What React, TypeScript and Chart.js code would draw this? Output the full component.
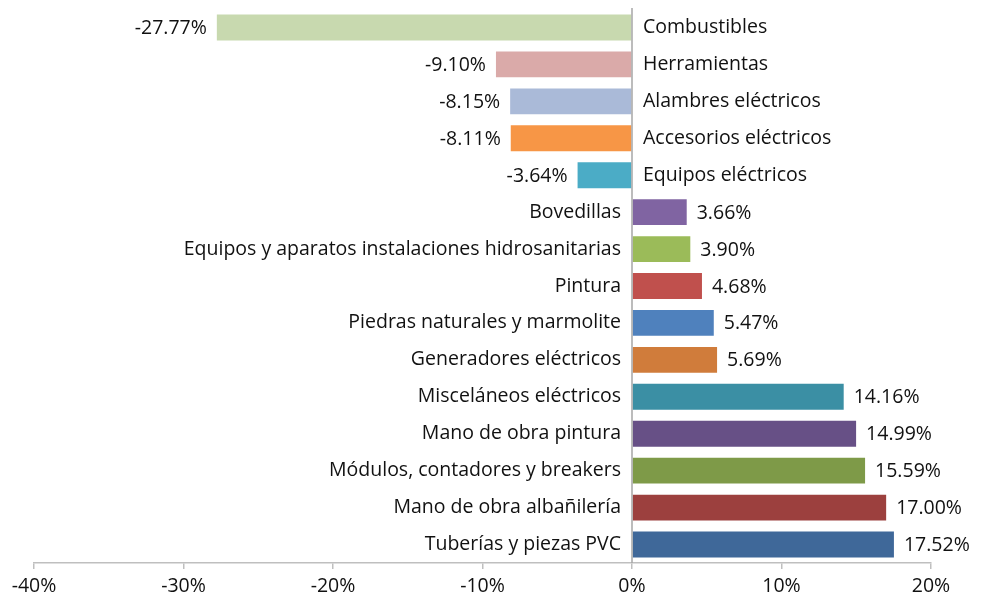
import React, { useEffect, useRef } from "react";
import { Chart, registerables } from "chart.js";

Chart.register(...registerables);

const categories = [
  "Combustibles",
  "Herramientas",
  "Alambres eléctricos",
  "Accesorios eléctricos",
  "Equipos eléctricos",
  "Bovedillas",
  "Equipos y aparatos instalaciones hidrosanitarias",
  "Pintura",
  "Piedras naturales y marmolite",
  "Generadores eléctricos",
  "Misceláneos eléctricos",
  "Mano de obra pintura",
  "Módulos, contadores y breakers",
  "Mano de obra albañilería",
  "Tuberías y piezas PVC",
];

const values = [
  -27.77, -9.1, -8.15, -8.11, -3.64, 3.66, 3.9, 4.68, 5.47, 5.69, 14.16, 14.99,
  15.59, 17.0, 17.52,
];

const barColors = [
  "#C8D9AF",
  "#DAAAA9",
  "#AABAD8",
  "#F79646",
  "#4BACC6",
  "#8064A2",
  "#9BBB59",
  "#C0504D",
  "#4F81BD",
  "#D07C3B",
  "#3B8FA4",
  "#675086",
  "#7E9A48",
  "#9C403E",
  "#3F6899",
];

const xMin = -40;
const xMax = 20;
const xStep = 10;

const FONT = "'Open Sans', 'Liberation Sans', sans-serif";
const FONT_SIZE = 19.5;

const labelPlugin = {
  id: "barLabels",
  afterDatasetsDraw(chart: any) {
    const ctx = chart.ctx;
    const meta = chart.getDatasetMeta(0);
    const xs = chart.scales.x;
    const area = chart.chartArea;
    const zeroX = xs.getPixelForValue(0);
    ctx.save();
    ctx.strokeStyle = "#A6A6A6";
    ctx.lineWidth = 1.5;
    ctx.beginPath();
    ctx.moveTo(zeroX, area.top - 1);
    ctx.lineTo(zeroX, area.bottom);
    ctx.stroke();

    ctx.font = `${FONT_SIZE}px ${FONT}`;
    ctx.fillStyle = "#111111";
    ctx.textBaseline = "middle";
    meta.data.forEach((bar: any, i: number) => {
      const v = values[i];
      const y = bar.y;
      const txt = v.toFixed(2) + "%";
      if (v < 0) {
        ctx.textAlign = "left";
        ctx.fillText(categories[i], zeroX + 11, y);
        ctx.textAlign = "right";
        ctx.fillText(txt, bar.x - 10, y + 1);
      } else {
        ctx.textAlign = "right";
        ctx.fillText(categories[i], zeroX - 11, y);
        ctx.textAlign = "left";
        ctx.fillText(txt, bar.x + 10, y + 1);
      }
    });
    ctx.restore();
  },
};

export default function App() {
  const ref = useRef<HTMLCanvasElement>(null);
  useEffect(() => {
    const canvas = ref.current!;
    const chart = new Chart(canvas, {
      type: "bar",
      data: {
        labels: categories,
        datasets: [
          {
            data: values,
            backgroundColor: barColors,
            borderWidth: 0,
            barPercentage: 0.7,
            categoryPercentage: 1,
          },
        ],
      },
      options: {
        indexAxis: "y",
        responsive: false,
        animation: false,
        layout: { padding: { left: 34, right: 52, top: 9, bottom: 0 } },
        plugins: {
          legend: { display: false },
          tooltip: { enabled: false },
        },
        scales: {
          y: { display: false },
          x: {
            min: xMin,
            max: xMax,
            afterFit: (s: any) => {
              s.height = 35;
            },
            ticks: {
              stepSize: xStep,
              color: "#111111",
              font: { family: FONT, size: FONT_SIZE },
              padding: 6,
              maxRotation: 0,
              callback: (v: any) => `${v}%`,
            },
            grid: {
              drawOnChartArea: false,
              drawTicks: true,
              tickLength: 6,
              color: "#BFBFBF",
              lineWidth: 1.5,
            },
            border: { display: true, color: "#BFBFBF", width: 1.5 },
          },
        },
      },
      plugins: [labelPlugin],
    });
    return () => chart.destroy();
  }, []);
  return (
    <div style={{ position: "absolute", left: 0, top: 0, width: 983, height: 598, background: "#fff" }}>
      <canvas ref={ref} width={983} height={598} style={{ width: 983, height: 598 }} />
    </div>
  );
}
